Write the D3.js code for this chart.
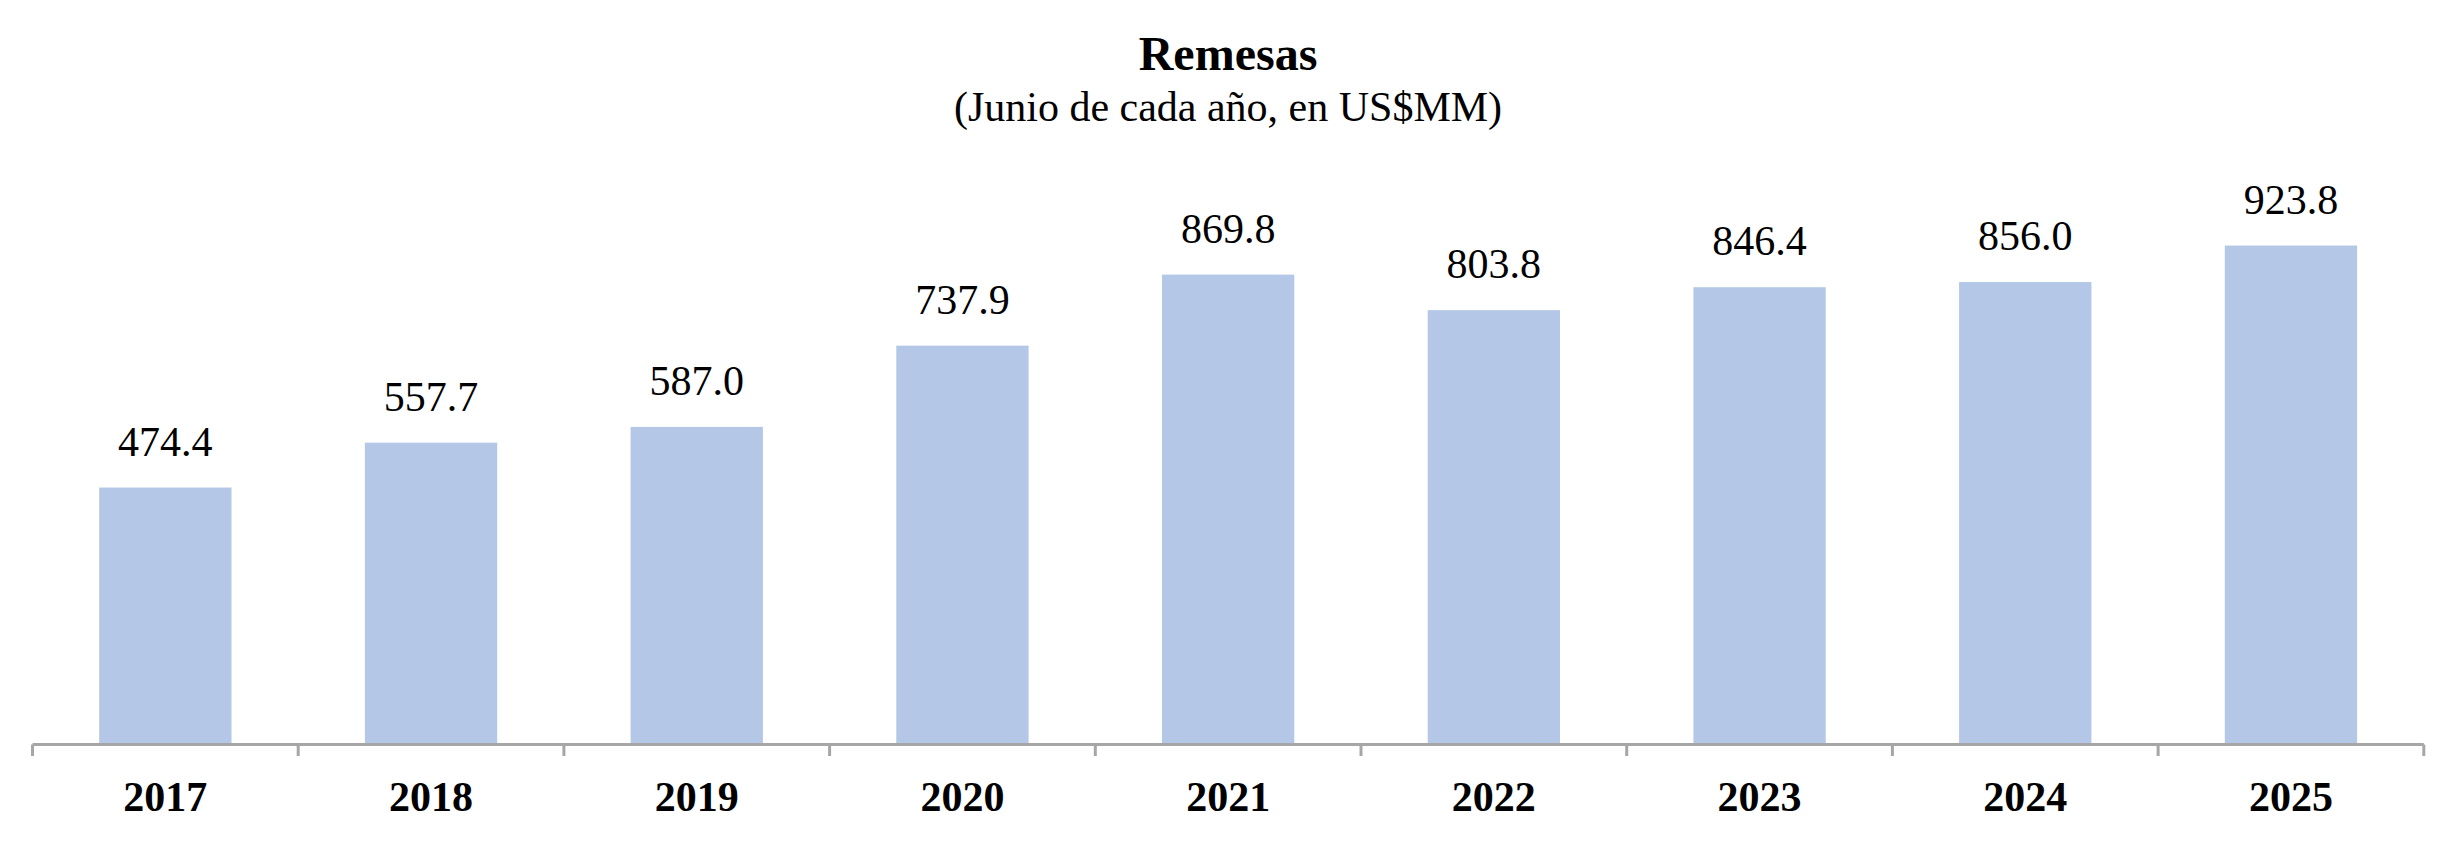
<!DOCTYPE html>
<html>
<head>
<meta charset="utf-8">
<script src="https://cdn.jsdelivr.net/npm/d3@7"></script>
<style>
  html, body { margin: 0; padding: 0; background: #fff; }
  svg { display: block; }
  text { font-family: "Liberation Serif", "Times New Roman", Times, serif; fill: #000; }
</style>
</head>
<body>
<svg id="chart" width="2452" height="854"></svg>
<script>
const years = ["2017", "2018", "2019", "2020", "2021", "2022", "2023", "2024", "2025"];
const values = [474.4, 557.7, 587.0, 737.9, 869.8, 803.8, 846.4, 856.0, 923.8];
const titleText = "Remesas";
const subtitleText = "(Junio de cada año, en US$MM)";

const W = 2452, H = 854;
const svg = d3.select("#chart");

const x = d3.scaleBand().domain(years).range([32.5, 2423.8]).padding(0);
const y = d3.scaleLinear().domain([0, 1000]).range([743, 204.5]);

const barW = x.bandwidth() * 0.498;

// Title
svg.append("text")
  .attr("x", 1228).attr("y", 70)
  .attr("text-anchor", "middle")
  .attr("font-size", 48).attr("font-weight", "bold")
  .text(titleText);
svg.append("text")
  .attr("x", 1228).attr("y", 121)
  .attr("text-anchor", "middle")
  .attr("font-size", 42)
  .text(subtitleText);

// Bars
svg.append("g").selectAll("rect")
  .data(years.map((yr, i) => ({ yr, v: values[i] })))
  .join("rect")
  .attr("x", d => x(d.yr) + x.bandwidth() / 2 - barW / 2)
  .attr("y", d => y(d.v))
  .attr("width", barW)
  .attr("height", d => y(0) - y(d.v))
  .attr("fill", "#b4c7e7");

// Value labels
svg.append("g").selectAll("text")
  .data(years.map((yr, i) => ({ yr, v: values[i] })))
  .join("text")
  .attr("x", d => x(d.yr) + x.bandwidth() / 2)
  .attr("y", d => y(d.v) - 32)
  .attr("text-anchor", "middle")
  .attr("font-size", 42)
  .text(d => d3.format(".1f")(d.v));

// X axis
const axis = d3.axisBottom(x).tickSize(0).tickFormat(d => d);
const gx = svg.append("g").attr("transform", `translate(0, ${y(0) + 1.5})`).call(axis);
gx.select(".domain").attr("stroke", "#a6a6a6").attr("stroke-width", 3)
  .attr("d", `M${x.range()[0]},0H${x.range()[1]}`);
gx.selectAll(".tick text")
  .attr("y", 66).attr("dy", 0)
  .attr("font-size", 42).attr("font-weight", "bold")
  .attr("font-family", "Liberation Serif, Times New Roman, serif")
  .attr("fill", "#000");
// Category boundary tick marks
const bounds = years.map(d => x(d)).concat([x.range()[1]]);
svg.append("g").selectAll("line")
  .data(bounds)
  .join("line")
  .attr("x1", d => d).attr("x2", d => d)
  .attr("y1", y(0) + 1.5).attr("y2", y(0) + 13)
  .attr("stroke", "#a6a6a6").attr("stroke-width", 3);
</script>
</body>
</html>
